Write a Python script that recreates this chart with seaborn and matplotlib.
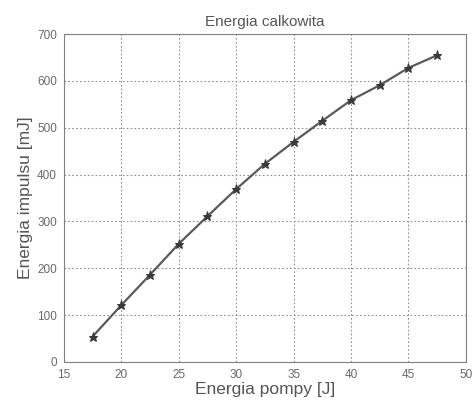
import matplotlib
matplotlib.use("Agg")
import matplotlib.pyplot as plt
import seaborn as sns
import pandas as pd

# Pump energy [J] vs. output pulse energy [mJ]
pump_energy = [17.5, 20, 22.5, 25, 27.5, 30, 32.5, 35, 37.5, 40, 42.5, 45, 47.5]
pulse_energy = [54, 121, 186, 252, 311, 369, 423, 470, 515, 559, 591, 628, 655]

x_ticks = [15, 20, 25, 30, 35, 40, 45, 50]
y_ticks = [0, 100, 200, 300, 400, 500, 600, 700]

sns.set_theme(style="white")
plt.rcParams["font.family"] = ["Liberation Sans", "DejaVu Sans"]

df = pd.DataFrame({"pump": pump_energy, "pulse": pulse_energy})

fig = plt.figure(figsize=(4.73, 4.07), dpi=100)
ax = fig.add_axes([0.135, 0.111, 0.85, 0.805])

sns.lineplot(data=df, x="pump", y="pulse", ax=ax, color="#5a5a5a",
             linewidth=1.6, marker="*", markersize=6.5,
             markerfacecolor="#3a3a3a", markeredgecolor="#3a3a3a")

ax.set_xlim(15, 50)
ax.set_ylim(0, 700)
ax.set_xticks(x_ticks)
ax.set_yticks(y_ticks)
ax.grid(True, linestyle=(0, (1.5, 2)), color="#8a8f99", linewidth=0.8)
for s in ax.spines.values():
    s.set_color("#808080")
    s.set_linewidth(0.8)
ax.tick_params(labelsize=8.5, colors="#6a6a6a", length=0)
ax.tick_params(axis="x", pad=5)
ax.tick_params(axis="y", pad=5)

ax.set_title("Energia calkowita", fontsize=11, color="#555555", pad=6)
ax.set_xlabel("Energia pompy [J]", fontsize=12.5, color="#555555", labelpad=1)
ax.set_ylabel("Energia impulsu [mJ]", fontsize=12.5, color="#555555", labelpad=3)

fig.savefig("out.png", dpi=100, facecolor="white")
